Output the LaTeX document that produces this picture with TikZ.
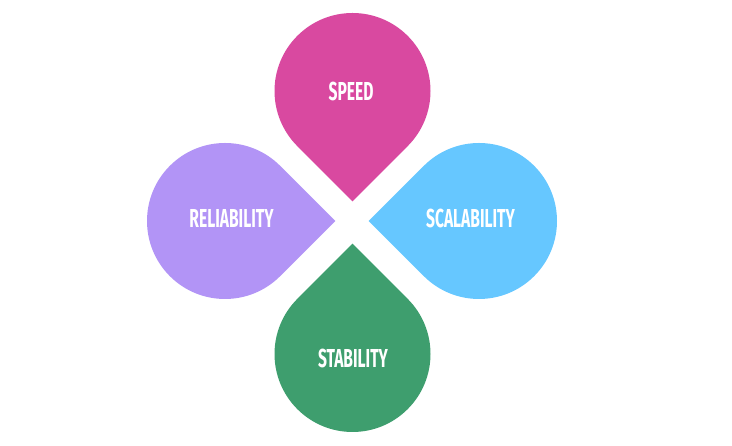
\documentclass[tikz,border=0pt]{standalone}
\usepackage{fontspec}
\newfontfamily\labfont{Fira Sans}[FakeStretch=0.6]
\definecolor{cpink}{RGB}{217,73,160}
\definecolor{cpurple}{RGB}{178,148,246}
\definecolor{cblue}{RGB}{102,199,255}
\definecolor{cgreen}{RGB}{62,158,110}
\tikzset{
  drop/.style={fill=#1, draw=none},
  lab/.style={text=white, font=\labfont\bfseries\fontsize{26}{30}\selectfont, inner sep=0pt}
}
\newcommand{\teardrop}[4]{% color, cx, cy, tip angle
  \path[drop=#1, shift={(#2pt,#3pt)}, rotate=#4]
    (0:110.3pt) -- (45:78pt) arc[start angle=45, end angle=315, radius=78pt] -- cycle;
}
\begin{document}
\begin{tikzpicture}[x=1pt,y=1pt]
  \fill[white] (0,0) rectangle (732,446);
  \useasboundingbox (0,0) rectangle (732,446);
  \teardrop{cpink}{352.5}{355}{270}
  \teardrop{cpurple}{225}{225}{0}
  \teardrop{cblue}{479}{225}{180}
  \teardrop{cgreen}{352.5}{92}{90}
  \node[lab] (speed) at (351,354) {SPEED};
  \node[lab] (reliability) at (231.5,228) {RELIABILITY};
  \node[lab] (scalability) at (470.5,228) {SCALABILITY};
  \node[lab] (stability) at (353,88) {STABILITY};
\end{tikzpicture}
\end{document}
